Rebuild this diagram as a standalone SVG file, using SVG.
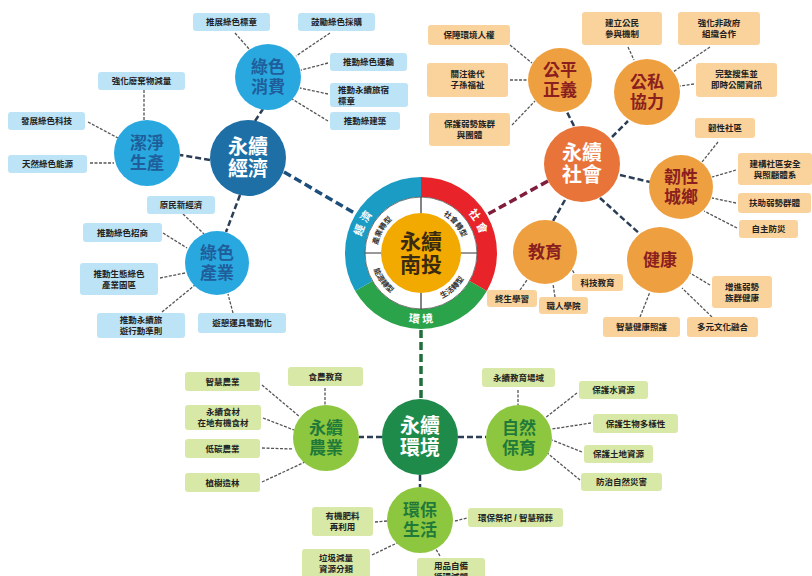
<svg xmlns="http://www.w3.org/2000/svg" width="812" height="576" viewBox="0 0 812 576">
<defs>
<style>
text{font-family:"Liberation Sans","Noto Sans CJK TC",sans-serif;font-weight:bold}
.lf{font-size:8.5px;fill:#222;text-anchor:middle}
.lfl{font-size:8.5px;fill:#222}
.bl{fill:#bde3f6}
.or{fill:#fad29c}
.gr{fill:#d8e8a6}
.hb{font-size:17px;text-anchor:middle}
.hm{font-size:20px;text-anchor:middle;fill:#fff}
.tb{fill:#1f5e9a}
.tr{fill:#8b1e1e}
.tg{fill:#1f7a3a}
.mb{stroke:#1d4f7c;stroke-width:3.5;stroke-dasharray:8 4;fill:none}
.mr{stroke:#7f1d3a;stroke-width:3.5;stroke-dasharray:8 4;fill:none}
.mg{stroke:#1f6e3c;stroke-width:3.5;stroke-dasharray:8 4;fill:none}
.sb{stroke:#2b3e55;stroke-width:2.5;stroke-dasharray:6 3;fill:none}
.lk{stroke:#555;stroke-width:1.3;stroke-dasharray:3 1.5;fill:none}
.rt{font-size:11px;fill:#fff}
.it{font-size:7.5px;fill:#333}
</style>
<path id="pEc" d="M 360.59 266.95 A 62 62 0 0 1 396.78 195.93"/>
<path id="pSo" d="M 443.22 195.12 A 62 62 0 0 1 481.86 264.83"/>
<path id="pEn" d="M 376 306.62 A 70 70 0 0 0 466 306.62"/>
<path id="pI1" d="M 378.5 264.39 A 44 44 0 0 1 409.61 210.5"/>
<path id="pI2" d="M 424.84 209.17 A 44 44 0 0 1 464.83 256.84"/>
<path id="pI3" d="M 371.62 245.18 A 50 50 0 0 0 413.18 302.38"/>
<path id="pI4" d="M 418.38 302.93 A 50 50 0 0 0 470.93 255.62"/>
</defs>
<rect width="812" height="576" fill="#fff"/>

<g id="connectors">
<path class="mb" d="M284 172 L356 214"/>
<path class="mr" d="M548 181 L488 214"/>
<path class="mg" d="M421 330 L421 399"/>
<path class="sb" d="M255 121 L263 109 M210 160 L180 155 M240 195 L226 232"/>
<path class="sb" d="M574 126 L567 112 M612 137 L628 121 M620 175 L650 182 M565 200 L553 221 M600 198 L640 234"/>
<path class="sb" d="M382 437 L359 437 M458 437 L486 437 M420 475 L420 487"/>
<path class="lk" d="M144 90 L144 121 M88 122 L118 138 M90 163 L114 163 M235 33 L250 50 M330 33 L296 56 M328 63 L301 70 M328 94 L300 88 M328 121 L292 99 M183 214 L204 234 M163 233 L187 248 M160 278 L185 273 M162 312 L195 285 M233 313 L228 294"/>
<path class="lk" d="M510 45 L532 63 M510 80 L528 80 M512 125 L535 101 M628 47 L634 60 M710 47 L673 72 M694 84 L680 86 M718 142 L702 162 M736 170 L712 177 M736 203 L712 198 M737 228 L704 211 M574 273 L570 266 M520 290 L527 280 M555 297 L553 284 M710 285 L690 273 M640 317 L650 292 M712 317 L682 288"/>
<path class="lk" d="M262 385 L300 417 M325 388 L325 405 M263 418 L294 430 M262 448 L293 449 M262 482 L305 462 M375 522 L387 521 M372 555 L397 543 M440 556 L434 546 M455 521 L467 518 M518 390 L518 405 M577 393 L545 418 M591 423 L552 429 M582 452 L552 440 M580 480 L546 452"/>
</g>

<g id="center">
<path d="M 421 187 A 66 66 0 0 1 478.16 286" stroke="#e8232a" stroke-width="20" fill="none"/>
<path d="M 478.16 286 A 66 66 0 0 1 363.84 286" stroke="#2aa34a" stroke-width="20" fill="none"/>
<path d="M 363.84 286 A 66 66 0 0 1 421 187" stroke="#1b9cc4" stroke-width="20" fill="none"/>
<circle cx="421" cy="253" r="56" fill="#fff" stroke="#555" stroke-width="0.8"/>
<path d="M421 197 L421 213 M421 293 L421 309 M365 253 L381 253 M461 253 L477 253" stroke="#333" stroke-width="1.2"/>
<circle cx="421" cy="253" r="40" fill="#f2a900"/>
<text class="rt"><textPath href="#pEc" startOffset="50%" text-anchor="middle">經 濟</textPath></text>
<text class="rt"><textPath href="#pSo" startOffset="50%" text-anchor="middle">社 會</textPath></text>
<text class="rt"><textPath href="#pEn" startOffset="50%" text-anchor="middle">環 境</textPath></text>
<text class="it"><textPath href="#pI1" startOffset="50%" text-anchor="middle">產業轉型</textPath></text>
<text class="it"><textPath href="#pI2" startOffset="50%" text-anchor="middle">社會轉型</textPath></text>
<text class="it"><textPath href="#pI3" startOffset="50%" text-anchor="middle">能源轉型</textPath></text>
<text class="it"><textPath href="#pI4" startOffset="50%" text-anchor="middle">生活轉型</textPath></text>
<text x="421" y="249" font-size="21" text-anchor="middle" fill="#3a2a10">永續</text>
<text x="421" y="272" font-size="21" text-anchor="middle" fill="#3a2a10">南投</text>
</g>

<g id="hub-economy"><circle cx="248" cy="158" r="38" fill="#1e6fa6"/><text class="hm" x="248" y="154">永續</text><text class="hm" x="248" y="176">經濟</text></g>
<g id="hub-clean"><circle cx="147" cy="153" r="33" fill="#29a8e0"/><text class="hb tb" x="147" y="149">潔淨</text><text class="hb tb" x="147" y="169">生產</text></g>
<g id="hub-consume"><circle cx="268" cy="77" r="33" fill="#29a8e0"/><text class="hb tb" x="268" y="73">綠色</text><text class="hb tb" x="268" y="93">消費</text></g>
<g id="hub-industry"><circle cx="217" cy="263" r="32" fill="#29a8e0"/><text class="hb tb" x="217" y="259">綠色</text><text class="hb tb" x="217" y="279">產業</text></g>

<g id="hub-society"><circle cx="582" cy="164" r="38" fill="#e8743a"/><text class="hm" x="582" y="160">永續</text><text class="hm" x="582" y="182">社會</text></g>
<g id="hub-justice"><circle cx="560" cy="80" r="32" fill="#eea040"/><text class="hb tr" x="560" y="76">公平</text><text class="hb tr" x="560" y="96">正義</text></g>
<g id="hub-partner"><circle cx="647" cy="92" r="33" fill="#eea040"/><text class="hb tr" x="647" y="88">公私</text><text class="hb tr" x="647" y="108">協力</text></g>
<g id="hub-resilience"><circle cx="681" cy="187" r="32" fill="#eea040"/><text class="hb tr" x="681" y="183">韌性</text><text class="hb tr" x="681" y="203">城鄉</text></g>
<g id="hub-education"><circle cx="545" cy="252" r="32" fill="#eea040"/><text class="hb tr" x="545" y="258">教育</text></g>
<g id="hub-health"><circle cx="660" cy="260" r="33" fill="#eea040"/><text class="hb tr" x="660" y="266">健康</text></g>

<g id="hub-environment"><circle cx="420" cy="437" r="38" fill="#1e8b4a"/><text class="hm" x="420" y="433">永續</text><text class="hm" x="420" y="455">環境</text></g>
<g id="hub-agri"><circle cx="326" cy="438" r="33" fill="#8dc63f"/><text class="hb tg" x="326" y="434">永續</text><text class="hb tg" x="326" y="454">農業</text></g>
<g id="hub-nature"><circle cx="519" cy="438" r="33" fill="#8dc63f"/><text class="hb tg" x="519" y="434">自然</text><text class="hb tg" x="519" y="454">保育</text></g>
<g id="hub-life"><circle cx="420" cy="520" r="33" fill="#8dc63f"/><text class="hb tg" x="420" y="516">環保</text><text class="hb tg" x="420" y="536">生活</text></g>

<g id="leaves-economy">
<rect class="bl" x="98" y="72" width="87" height="18" rx="3"/><text class="lf" x="141.5" y="84">強化廢棄物減量</text>
<rect class="bl" x="8" y="112" width="77" height="18" rx="3"/><text class="lf" x="46.5" y="124">發展綠色科技</text>
<rect class="bl" x="8" y="155" width="79" height="18" rx="3"/><text class="lf" x="47.5" y="167">天然綠色能源</text>
<rect class="bl" x="193" y="13" width="77" height="18" rx="3"/><text class="lf" x="231.5" y="25">推展綠色標章</text>
<rect class="bl" x="298" y="13" width="77" height="18" rx="3"/><text class="lf" x="336.5" y="25">鼓勵綠色採購</text>
<rect class="bl" x="330" y="53" width="77" height="18" rx="3"/><text class="lf" x="368.5" y="65">推動綠色運輸</text>
<rect class="bl" x="330" y="83" width="78" height="24" rx="3"/><text class="lfl" x="338" y="93">推動永續旅宿</text><text class="lfl" x="338" y="104">標章</text>
<rect class="bl" x="330" y="112" width="70" height="18" rx="3"/><text class="lf" x="365" y="124">推動綠建築</text>
<rect class="bl" x="147" y="196" width="68" height="18" rx="3"/><text class="lf" x="181" y="208">原民新經濟</text>
<rect class="bl" x="83" y="223" width="79" height="19" rx="3"/><text class="lf" x="122.5" y="235.5">推動綠色招商</text>
<rect class="bl" x="80" y="263" width="78" height="32" rx="3"/><text class="lf" x="119" y="277">推動生態綠色</text><text class="lf" x="119" y="288">產業園區</text>
<rect class="bl" x="97" y="313" width="88" height="25" rx="3"/><text class="lf" x="141" y="323">推動永續旅</text><text class="lf" x="141" y="334">遊行動準則</text>
<rect class="bl" x="198" y="313" width="88" height="20" rx="3"/><text class="lf" x="242" y="326">遊憩運具電動化</text>
</g>

<g id="leaves-society">
<rect class="or" x="428" y="25" width="82" height="20" rx="3"/><text class="lf" x="469" y="38">保障環境人權</text>
<rect class="or" x="427" y="63" width="81" height="34" rx="3"/><text class="lf" x="467.5" y="77">關注後代</text><text class="lf" x="467.5" y="88">子孫福祉</text>
<rect class="or" x="429" y="113" width="81" height="33" rx="3"/><text class="lf" x="469.5" y="127">保護弱勢族群</text><text class="lf" x="469.5" y="138">與團體</text>
<rect class="or" x="582" y="12" width="80" height="33" rx="3"/><text class="lf" x="622" y="26">建立公民</text><text class="lf" x="622" y="37">參與機制</text>
<rect class="or" x="678" y="12" width="82" height="33" rx="3"/><text class="lf" x="719" y="26">強化非政府</text><text class="lf" x="719" y="37">組織合作</text>
<rect class="or" x="696" y="63" width="81" height="34" rx="3"/><text class="lf" x="736.5" y="77">完整搜集並</text><text class="lf" x="736.5" y="88">即時公開資訊</text>
<rect class="or" x="695" y="118" width="60" height="20" rx="3"/><text class="lf" x="725" y="131">韌性社區</text>
<rect class="or" x="738" y="153" width="74" height="32" rx="3"/><text class="lf" x="775" y="167">建構社區安全</text><text class="lf" x="775" y="178">與照顧體系</text>
<rect class="or" x="738" y="193" width="73" height="20" rx="3"/><text class="lf" x="774.5" y="206">扶助弱勢群體</text>
<rect class="or" x="739" y="220" width="59" height="18" rx="3"/><text class="lf" x="768.5" y="232">自主防災</text>
<rect class="or" x="572" y="274" width="51" height="17" rx="3"/><text class="lf" x="597.5" y="285.5">科技教育</text>
<rect class="or" x="487" y="290" width="50" height="17" rx="3"/><text class="lf" x="512" y="301.5">終生學習</text>
<rect class="or" x="539" y="297" width="49" height="17" rx="3"/><text class="lf" x="563.5" y="308.5">職人學院</text>
<rect class="or" x="712" y="276" width="60" height="32" rx="3"/><text class="lf" x="742" y="290">增進弱勢</text><text class="lf" x="742" y="301">族群健康</text>
<rect class="or" x="603" y="317" width="77" height="20" rx="3"/><text class="lf" x="641.5" y="330">智慧健康照護</text>
<rect class="or" x="687" y="317" width="71" height="20" rx="3"/><text class="lf" x="722.5" y="330">多元文化融合</text>
</g>

<g id="leaves-environment">
<rect class="gr" x="185" y="372" width="75" height="19" rx="3"/><text class="lf" x="222.5" y="384.5">智慧農業</text>
<rect class="gr" x="288" y="367" width="75" height="19" rx="3"/><text class="lf" x="325.5" y="379.5">食農教育</text>
<rect class="gr" x="185" y="405" width="76" height="25" rx="3"/><text class="lf" x="223" y="415">永續食材</text><text class="lf" x="223" y="426">在地有機食材</text>
<rect class="gr" x="185" y="439" width="75" height="19" rx="3"/><text class="lf" x="222.5" y="451.5">低碳農業</text>
<rect class="gr" x="185" y="473" width="75" height="19" rx="3"/><text class="lf" x="222.5" y="485.5">植樹造林</text>
<rect class="gr" x="312" y="507" width="61" height="29" rx="3"/><text class="lf" x="342.5" y="519">有機肥料</text><text class="lf" x="342.5" y="530">再利用</text>
<rect class="gr" x="302" y="549" width="68" height="30" rx="3"/><text class="lf" x="336" y="561">垃圾減量</text><text class="lf" x="336" y="572">資源分類</text>
<rect class="gr" x="417" y="558" width="68" height="28" rx="3"/><text class="lf" x="451" y="569">用品自備</text><text class="lf" x="451" y="580">循環減塑</text>
<rect class="gr" x="468" y="508" width="95" height="19" rx="3"/><text class="lf" x="515.5" y="520.5">環保祭祀 / 智慧殯葬</text>
<rect class="gr" x="482" y="368" width="73" height="19" rx="3"/><text class="lf" x="518.5" y="380.5">永續教育場域</text>
<rect class="gr" x="579" y="381" width="69" height="18" rx="3"/><text class="lf" x="613.5" y="393">保護水資源</text>
<rect class="gr" x="593" y="414" width="85" height="19" rx="3"/><text class="lf" x="635.5" y="426.5">保護生物多樣性</text>
<rect class="gr" x="584" y="445" width="69" height="18" rx="3"/><text class="lf" x="618.5" y="457">保護土地資源</text>
<rect class="gr" x="581" y="473" width="81" height="18" rx="3"/><text class="lf" x="621.5" y="485">防治自然災害</text>
</g>
</svg>
